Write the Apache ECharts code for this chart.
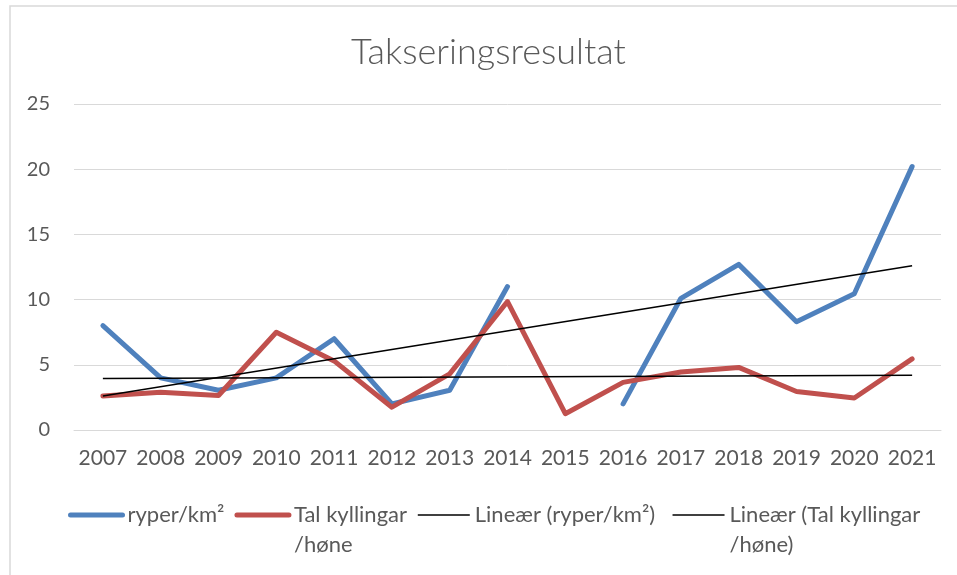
<!DOCTYPE html>
<html>
<head>
<meta charset="utf-8">
<script src="https://cdn.jsdelivr.net/npm/echarts@6/dist/echarts.min.js"></script>
<style>html,body{margin:0;padding:0;background:#fff}#c{width:957px;height:575px}</style>
</head>
<body>
<div id="c"></div>
<script>
const years = ['2007','2008','2009','2010','2011','2012','2013','2014','2015','2016','2017','2018','2019','2020','2021'];
const ryper = [8, 4, 3.05, 4, 7, 2, 3.05, 11, null, 2, 10.1, 12.7, 8.3, 10.45, 20.2];
const kyllingar = [2.6, 2.9, 2.65, 7.5, 5.3, 1.75, 4.3, 9.85, 1.25, 3.65, 4.45, 4.8, 2.95, 2.45, 5.45];
const trendRyper = [2.6, null, null, null, null, null, null, null, null, null, null, null, null, null, 12.6];
const trendKyllingar = [3.95, null, null, null, null, null, null, null, null, null, null, null, null, null, 4.2];
const yTicks = [0, 5, 10, 15, 20, 25];

const FONT = 'Lato';
const chart = echarts.init(document.getElementById('c'));
chart.setOption({
  animation: false,
  backgroundColor: '#ffffff',
  graphic: [{
    type: 'rect', z: -1, silent: true,
    shape: { x: 10, y: 6, width: 1000, height: 700 },
    style: { fill: 'none', stroke: '#D9D9D9', lineWidth: 1.5 }
  }],
  title: {
    text: 'Takseringsresultat',
    left: 351,
    top: 29,
    padding: [5, 0, 5, 0],
    textStyle: { fontFamily: FONT, fontWeight: 300, fontSize: 36, color: '#595959' }
  },
  grid: { left: 74, right: 16, top: 104, bottom: 145, containLabel: false },
  xAxis: {
    type: 'category',
    data: years,
    boundaryGap: true,
    axisLine: { show: true, lineStyle: { color: '#D9D9D9', width: 1 } },
    axisTick: { show: false },
    axisLabel: { fontFamily: FONT, fontSize: 21, color: '#595959', margin: 18, interval: 0 }
  },
  yAxis: {
    type: 'value',
    min: yTicks[0], max: yTicks[yTicks.length - 1], interval: 5,
    axisLine: { show: false },
    axisTick: { show: false },
    splitLine: { lineStyle: { color: '#D9D9D9', width: 1 } },
    axisLabel: { fontFamily: FONT, fontSize: 20, color: '#595959', margin: 24 }
  },
  legend: {
    left: 63,
    top: 465,
    itemWidth: 52,
    itemHeight: 14,
    itemGap: 10,
    itemStyle: { opacity: 0 },
    formatter: function (name) {
      if (name.indexOf(' /høne') >= 0) return '\n' + name.replace(' /høne', '\n/høne');
      return name;
    },
    textStyle: { fontFamily: FONT, fontSize: 22, color: '#595959', lineHeight: 30 },
    data: [
      { name: 'ryper/km²', lineStyle: { width: 5, color: '#4F81BD', cap: 'round' }, itemStyle: { opacity: 0 }, textStyle: { width: 94 } },
      { name: 'Tal kyllingar /høne', lineStyle: { width: 5, color: '#C0504D', cap: 'round' }, itemStyle: { opacity: 0 }, textStyle: { width: 111 } },
      { name: 'Lineær (ryper/km²)', lineStyle: { width: 1.5, color: '#000000' }, itemStyle: { opacity: 0 }, textStyle: { width: 187 } },
      { name: 'Lineær (Tal kyllingar /høne)', lineStyle: { width: 1.5, color: '#000000' }, itemStyle: { opacity: 0 } }
    ]
  },
  series: [
    {
      name: 'ryper/km²', type: 'line', data: ryper, symbol: 'none', connectNulls: false,
      lineStyle: { color: '#4F81BD', width: 5, cap: 'round', join: 'round' },
      itemStyle: { color: '#4F81BD' }, z: 3
    },
    {
      name: 'Tal kyllingar /høne', type: 'line', data: kyllingar, symbol: 'none',
      lineStyle: { color: '#C0504D', width: 5, cap: 'round', join: 'round' },
      itemStyle: { color: '#C0504D' }, z: 4
    },
    {
      name: 'Lineær (ryper/km²)', type: 'line', data: trendRyper, symbol: 'none', connectNulls: true,
      lineStyle: { color: '#000000', width: 1.5 },
      itemStyle: { color: '#000000' }, z: 5
    },
    {
      name: 'Lineær (Tal kyllingar /høne)', type: 'line', data: trendKyllingar, symbol: 'none', connectNulls: true,
      lineStyle: { color: '#000000', width: 1.5 },
      itemStyle: { color: '#000000' }, z: 5
    }
  ]
});
</script>
</body>
</html>
